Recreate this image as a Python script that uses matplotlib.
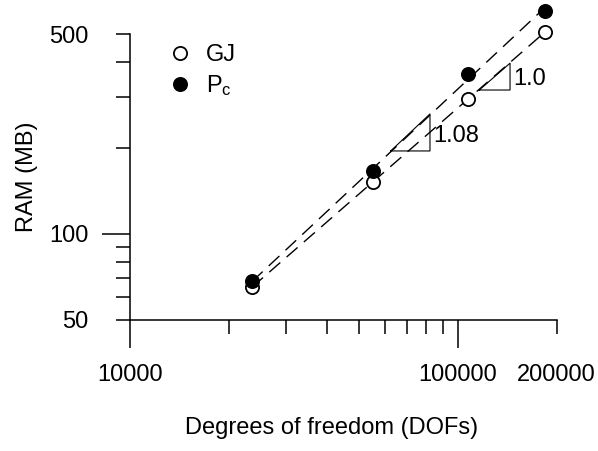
import matplotlib
matplotlib.use("Agg")
import matplotlib.pyplot as plt
from matplotlib.ticker import FixedLocator, FuncFormatter
import numpy as np

plt.rcParams['font.family'] = ['Liberation Sans', 'DejaVu Sans']
plt.rcParams['mathtext.fontset'] = 'custom'
plt.rcParams['mathtext.rm'] = 'Liberation Sans'
plt.rcParams['mathtext.it'] = 'Liberation Sans'

# memory use vs problem size for the two solvers
dofs = [23550, 55190, 106900, 184000]
ram_gj = [65.2, 152, 296, 507]
ram_pc = [68.2, 166, 362, 603]

# slope triangles: (left x, left y, right x, slope, label)
triangles = [(116100, 318.5, 144100, 1.0, '1.0'),
             (62340, 195, 82140, 1.08, '1.08')]

FS = 17

fig = plt.figure(figsize=(5.98, 4.51), dpi=100)
ax = fig.add_axes([130 / 598, 131 / 451, 450 / 598, 320 / 451])
ax.set_xscale('log')
ax.set_yscale('log')
ax.set_xlim(1e4, 10 ** (4 + 450 / 328))
ax.set_ylim(50, 50 * 10 ** (320 / 286))

# power-law fits drawn as dashed lines
xs = np.array([min(dofs), max(dofs)])
for ram in (ram_gj, ram_pc):
    k, b = np.polyfit(np.log10(dofs), np.log10(ram), 1)
    ax.plot(xs, 10 ** (b + k * np.log10(xs)), color='black', lw=1.0,
            dashes=(10.5, 6))

ax.plot(dofs, ram_gj, 'o', ms=9.5, mfc='white', mec='black', mew=1.3,
        label='GJ', clip_on=False)
ax.plot(dofs, ram_pc, 'o', ms=9.5, mfc='black', mec='black', mew=1.3,
        label=r'P$_{\mathrm{c}}$', clip_on=False)

for x0, y0, x1, k, txt in triangles:
    y1 = y0 * (x1 / x0) ** k
    ax.plot([x0, x1, x1, x0], [y0, y0, y1, y0], color='black', lw=0.8)
    ax.text(x1 * 1.02, y0 ** 0.6 * y1 ** 0.4, txt, fontsize=FS,
            ha='left', va='center')

ax.legend(loc='upper left', bbox_to_anchor=(0.0326, 0.9275), frameon=False,
          fontsize=FS, handletextpad=0.5, labelspacing=0.27,
          handlelength=1.2)

for s in ('top', 'right'):
    ax.spines[s].set_visible(False)
for s in ('left', 'bottom'):
    ax.spines[s].set_linewidth(1.1)
ax.spines['left'].set_bounds(50, 500)
ax.spines['bottom'].set_bounds(1e4, 2e5)

ax.yaxis.set_major_locator(FixedLocator([100]))
ax.yaxis.set_minor_locator(FixedLocator([50, 60, 70, 80, 90, 200, 300, 400, 500]))
ax.yaxis.set_minor_formatter(FuncFormatter(lambda v, p: '%d' % v if v in (50, 500) else ''))
ax.yaxis.set_major_formatter(FuncFormatter(lambda v, p: '%d' % v))

ax.xaxis.set_major_locator(FixedLocator([1e4, 1e5]))
ax.xaxis.set_minor_locator(FixedLocator([2e4, 3e4, 4e4, 5e4, 6e4, 7e4, 8e4, 9e4, 2e5]))
ax.xaxis.set_minor_formatter(FuncFormatter(lambda v, p: '%d' % v if v == 2e5 else ''))
ax.xaxis.set_major_formatter(FuncFormatter(lambda v, p: '%d' % v))

ax.tick_params(which='major', length=20, width=1.1, labelsize=FS)
ax.tick_params(which='minor', length=10, width=1.1, labelsize=FS)
ax.tick_params(axis='y', which='major', pad=10)
ax.tick_params(axis='y', which='minor', pad=20)
ax.tick_params(axis='x', which='major', pad=12)
ax.tick_params(axis='x', which='minor', pad=22)

ax.set_xlabel('Degrees of freedom (DOFs)', fontsize=FS)
ax.set_ylabel('RAM (MB)', fontsize=FS)
ax.xaxis.set_label_coords(0.447, -0.303)
ax.yaxis.set_label_coords(-0.204, 0.447)

fig.savefig('out.png', dpi=100)
